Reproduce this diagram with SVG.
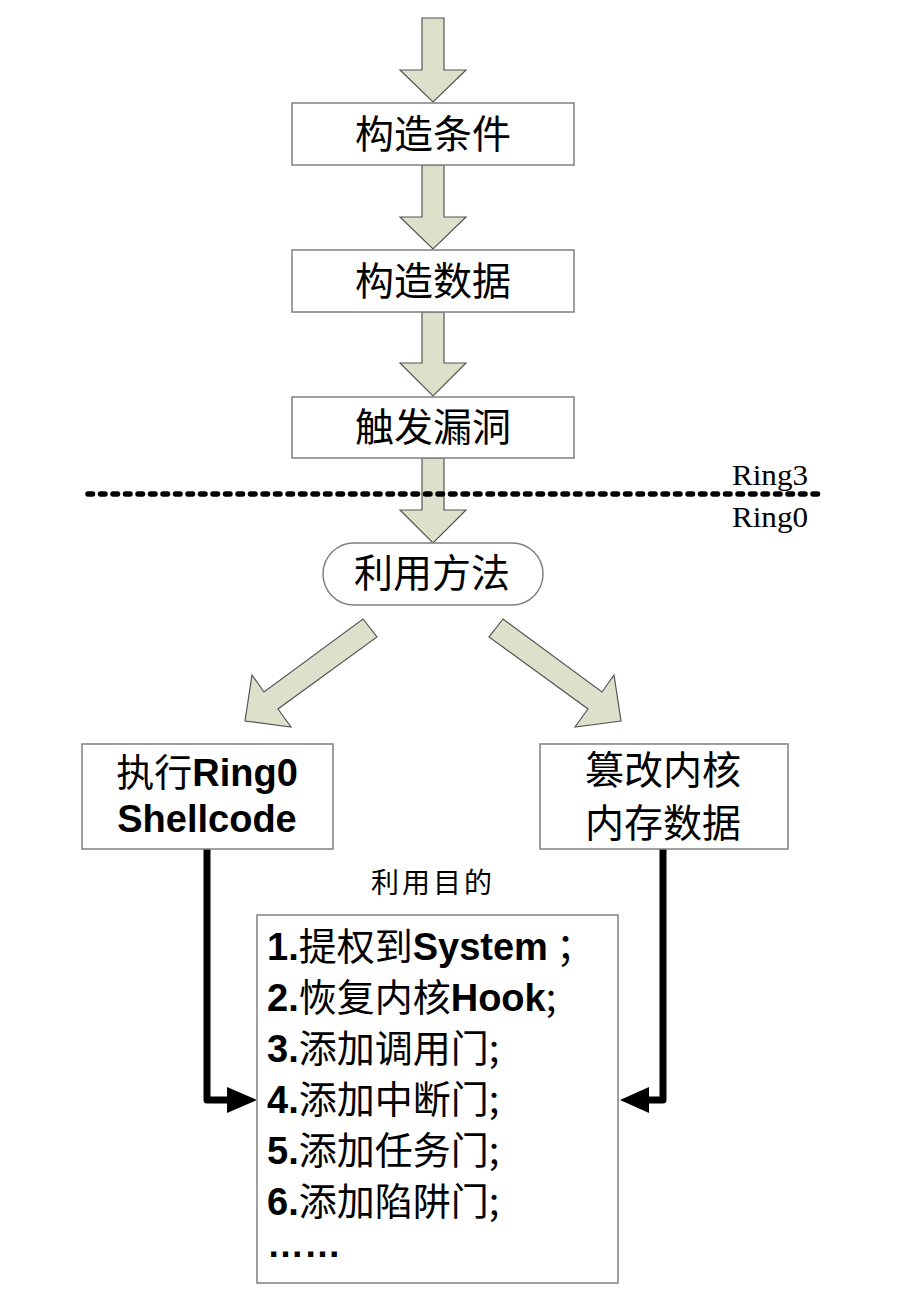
<svg xmlns="http://www.w3.org/2000/svg" width="904" height="1300" viewBox="0 0 904 1300">
<defs>
<style>
.bg{fill:#ffffff}
.box{fill:#ffffff;stroke:#808080;stroke-width:1.5}
.blk{fill:#dde1cb;stroke:#555555;stroke-width:1.2;stroke-linejoin:miter}
.cjk{font-family:"Noto Sans CJK SC","Liberation Sans",sans-serif;font-weight:normal;fill:#000}
.b{font-family:"Liberation Sans","Noto Sans CJK SC",sans-serif;font-weight:bold}
.ring{font-family:"Liberation Serif","Noto Sans CJK SC",serif;font-size:30px;fill:#000}
.conn{fill:none;stroke:#000;stroke-width:7;stroke-linejoin:round;stroke-linecap:round}
.head{fill:#000}
</style>
</defs>
<rect class="bg" x="0" y="0" width="904" height="1300"/>

<g id="connectors">
<polygon class="blk" points="422,18 444,18 444,70 466,70 433,102 400,70 422,70"/>
<polygon class="blk" points="422,165 444,165 444,217 466,217 433,249 400,217 422,217"/>
<polygon class="blk" points="422,312 444,312 444,363 466,363 433,396 400,363 422,363"/>
<polygon class="blk" points="422,458 444,458 444,510 466,510 433,543 400,510 422,510"/>
<polygon class="blk" points="363,619 377,637 278,709 291,727 245,721 252,675 264,692"/>
<polygon class="blk" points="503,619 489,637 588,709 575,727 621,721 614,675 602,692"/>
<path class="conn" d="M207,849 V1100 H230"/>
<polygon class="head" points="227,1087 257,1100 227,1113"/>
<path class="conn" d="M663,849 V1100 H648"/>
<polygon class="head" points="649,1087 620,1100 649,1113"/>
</g>

<g id="boundary">
<line x1="88" y1="494" x2="824" y2="494" stroke="#000" stroke-width="5.5" stroke-linecap="round" stroke-dasharray="4.5 8"/>
<text class="ring" x="732" y="485" textLength="76" lengthAdjust="spacingAndGlyphs">Ring3</text>
<text class="ring" x="732" y="527" textLength="76" lengthAdjust="spacingAndGlyphs">Ring0</text>
</g>

<g id="node-cond">
<rect class="box" x="292" y="103" width="282" height="62"/>
<text class="cjk" x="433" y="148" font-size="39" text-anchor="middle">构造条件</text>
</g>

<g id="node-data">
<rect class="box" x="292" y="250" width="282" height="62"/>
<text class="cjk" x="433" y="295" font-size="39" text-anchor="middle">构造数据</text>
</g>

<g id="node-trigger">
<rect class="box" x="292" y="397" width="282" height="61"/>
<text class="cjk" x="433" y="441" font-size="39" text-anchor="middle">触发漏洞</text>
</g>

<g id="node-method">
<rect class="box" x="323" y="543" width="220" height="62" rx="31" ry="31"/>
<text class="cjk" x="432" y="587" font-size="39" text-anchor="middle">利用方法</text>
</g>

<g id="node-shellcode">
<rect class="box" x="82" y="744" width="251" height="105"/>
<text class="cjk" x="207" y="786" font-size="38" text-anchor="middle">执行<tspan class="b">Ring0</tspan></text>
<text class="cjk b" x="207" y="832" font-size="38" text-anchor="middle">Shellcode</text>
</g>

<g id="node-tamper">
<rect class="box" x="540" y="744" width="248" height="105"/>
<text class="cjk" x="663" y="784" font-size="39" text-anchor="middle">篡改内核</text>
<text class="cjk" x="663" y="837" font-size="39" text-anchor="middle">内存数据</text>
</g>

<g id="label-purpose">
<text class="cjk" x="433" y="893" font-size="28" text-anchor="middle" letter-spacing="3">利用目的</text>
</g>

<g id="node-purpose">
<rect class="box" x="257" y="915" width="361" height="368"/>
<text class="cjk" x="267" y="960" font-size="38"><tspan class="b">1.</tspan>提权到<tspan class="b">System</tspan><tspan dx="8">；</tspan></text>
<text class="cjk" x="267" y="1011" font-size="38"><tspan class="b">2.</tspan>恢复内核<tspan class="b">Hook</tspan>;</text>
<text class="cjk" x="267" y="1062" font-size="38"><tspan class="b">3.</tspan>添加调用门;</text>
<text class="cjk" x="267" y="1113" font-size="38"><tspan class="b">4.</tspan>添加中断门;</text>
<text class="cjk" x="267" y="1164" font-size="38"><tspan class="b">5.</tspan>添加任务门;</text>
<text class="cjk" x="267" y="1215" font-size="38"><tspan class="b">6.</tspan>添加陷阱门;</text>
<text class="cjk b" x="267" y="1257" font-size="37">……</text>
</g>
</svg>
